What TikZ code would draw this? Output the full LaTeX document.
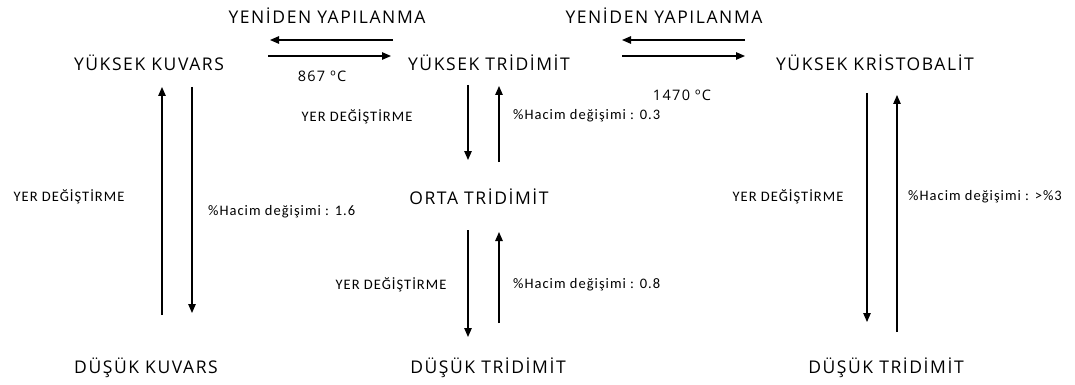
\documentclass[tikz,border=0pt]{standalone}
\usepackage{fontspec}
\setmainfont{Open Sans}
\newfontfamily\phasefont[LetterSpace=9]{Open Sans}
\newfontfamily\labelfont[LetterSpace=7]{Carlito}
\usetikzlibrary{arrows.meta}
\begin{document}
\begin{tikzpicture}[x=1pt,y=-1pt,
  phase/.style={inner sep=0pt,font=\phasefont\fontsize{17.5}{20}\selectfont},
  temp/.style={inner sep=0pt,font=\phasefont\fontsize{14.5}{17}\selectfont},
  note/.style={inner sep=0pt,font=\labelfont\fontsize{14.5}{17}\selectfont},
  arr/.style={line width=1.2pt,-{Triangle[length=9pt,width=7.5pt]}}]
\useasboundingbox (0,0) rectangle (1075,385);
% phases
\node[phase] (yk)  at (149,63)  {YÜKSEK KUVARS};
\node[phase] (yt)  at (489,63)  {YÜKSEK TRİDİMİT};
\node[phase] (ykr) at (875,63)  {YÜKSEK KRİSTOBALİT};
\node[phase] (ot)  at (479,197) {ORTA TRİDİMİT};
\node[phase] (dk)  at (146,368) {DÜŞÜK KUVARS};
\node[phase] (dt)  at (488,368) {DÜŞÜK TRİDİMİT};
\node[phase] (dt2) at (886,368) {DÜŞÜK TRİDİMİT};
% reconstructive transitions
\node[phase] (yy1) at (327,16) {YENİDEN YAPILANMA};
\node[phase] (yy2) at (664,16) {YENİDEN YAPILANMA};
\node[temp] (t1) at (322,76) {867 ºC};
\node[temp] (t2) at (682,95) {1470 ºC};
% displacive transitions
\node[note] (yd1) at (69,197)  {YER DEĞİŞTİRME};
\node[note] (yd2) at (357,117) {YER DEĞİŞTİRME};
\node[note] (yd3) at (391,285) {YER DEĞİŞTİRME};
\node[note] (yd4) at (788,197) {YER DEĞİŞTİRME};
\node[note,anchor=west] (hd1) at (208,212) {\%Hacim değişimi : 1.6};
\node[note,anchor=west] (hd2) at (513,116) {\%Hacim değişimi : 0.3};
\node[note,anchor=west] (hd3) at (513,285) {\%Hacim değişimi : 0.8};
\node[note,anchor=west] (hd4) at (908,197) {\%Hacim değişimi : >\%3};
% arrow end points
\coordinate (a1s) at (393,40);  \coordinate (a1e) at (270,40);
\coordinate (a2s) at (268,56);  \coordinate (a2e) at (391,56);
\coordinate (a3s) at (745,40);  \coordinate (a3e) at (622,40);
\coordinate (a4s) at (622,56);  \coordinate (a4e) at (745,56);
\coordinate (b1s) at (162,315); \coordinate (b1e) at (162,87);
\coordinate (b2s) at (192,87);  \coordinate (b2e) at (192,313);
\coordinate (c1s) at (468,85);  \coordinate (c1e) at (468,160);
\coordinate (c2s) at (499,162); \coordinate (c2e) at (499,86);
\coordinate (c3s) at (468,230); \coordinate (c3e) at (468,337);
\coordinate (c4s) at (499,323); \coordinate (c4e) at (499,232);
\coordinate (d1s) at (867,93);  \coordinate (d1e) at (867,322);
\coordinate (d2s) at (897,332); \coordinate (d2e) at (897,95);
% arrows
\draw[arr] (a1s) -- (a1e);
\draw[arr] (a2s) -- (a2e);
\draw[arr] (a3s) -- (a3e);
\draw[arr] (a4s) -- (a4e);
\draw[arr] (b1s) -- (b1e);
\draw[arr] (b2s) -- (b2e);
\draw[arr] (c1s) -- (c1e);
\draw[arr] (c2s) -- (c2e);
\draw[arr] (c3s) -- (c3e);
\draw[arr] (c4s) -- (c4e);
\draw[arr] (d1s) -- (d1e);
\draw[arr] (d2s) -- (d2e);
\end{tikzpicture}
\end{document}
